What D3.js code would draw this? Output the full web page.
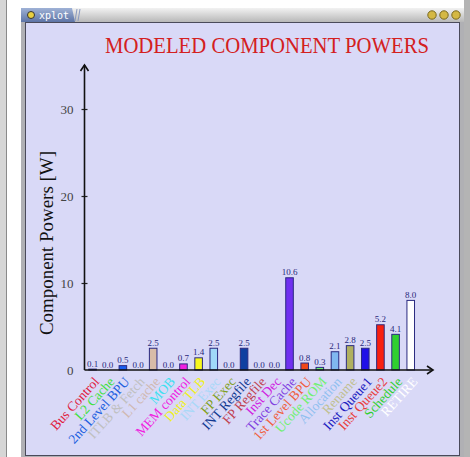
<!DOCTYPE html>
<html><head><meta charset="utf-8">
<script src="https://cdn.jsdelivr.net/npm/d3@7"></script>
<style>body{margin:0;background:#fff;overflow:hidden}</style>
</head><body>
<svg id="c" width="470" height="457"></svg>
<script>
const categories = ["Bus Control","L2 Cache","2nd Level BPU","ITLB & Fetch","L1 cache","MOB","MEM control","Data TLB","INT Exec","FP Exec","INT Regfile","FP Regfile","Inst Dec","Trace Cache","1st Level BPU","Ucode ROM","Allocation","Rename","Inst Queue1","Inst Queue2","Schedule","RETIRE"];
const values = [0.1,0.0,0.5,0.0,2.5,0.0,0.7,1.4,2.5,0.0,2.5,0.0,0.0,10.6,0.8,0.3,2.1,2.8,2.5,5.2,4.1,8.0];
const barColors = ["#e02030","#40e040","#1a5ef0","#c8c8c8","#d8bca8","#40e0f0","#f020e0","#f8f820","#a0d8f8","#80a020","#1040a0","#c04050","#d020e0","#7030f0","#f04818","#70f070","#80b8f0","#b0b060","#2010e8","#f82010","#30d030","#ffffff"];
const labelColors = ["#e02040","#40e040","#2060e0","#c0c0c0","#d0b8b0","#40e0f0","#f020e0","#f0f020","#a8d8f8","#80a020","#103890","#c04050","#d020e0","#8040e0","#f06040","#70f070","#90c0f0","#c0c090","#2020c0","#e84040","#30d030","#ffffff"];
const yTicks = [0,10,20,30];
const titleText = "MODELED COMPONENT POWERS";
const yTitleText = "Component Powers [W]";

const svg = d3.select("#c");
const serif = "'Liberation Serif','DejaVu Serif',serif";

// ---- window chrome ----
svg.append("rect").attr("x",0).attr("y",0).attr("width",7).attr("height",457).attr("fill","#d6d6d6");
svg.append("line").attr("x1",6.5).attr("x2",6.5).attr("y1",0).attr("y2",457).attr("stroke","#8a8a8a");
svg.append("rect").attr("x",464).attr("y",0).attr("width",6).attr("height",457).attr("fill","#b4b4b4");
svg.append("rect").attr("x",21).attr("y",8).attr("width",443).attr("height",449).attr("fill","#b0b0b4");
const defs = svg.append("defs");
const g1 = defs.append("linearGradient").attr("id","tb").attr("x1",0).attr("x2",0).attr("y1",0).attr("y2",1);
g1.append("stop").attr("offset",0).attr("stop-color","#f2f2f2");
g1.append("stop").attr("offset",1).attr("stop-color","#b8b8b8");
const g2 = defs.append("linearGradient").attr("id","tab").attr("x1",0).attr("x2",0).attr("y1",0).attr("y2",1);
g2.append("stop").attr("offset",0).attr("stop-color","#9fb2d6");
g2.append("stop").attr("offset",1).attr("stop-color","#5d74a6");
svg.append("rect").attr("x",21).attr("y",8).attr("width",443).attr("height",14).attr("fill","url(#tb)");
svg.append("path").attr("d","M21,8 H72 L75,22 H21 Z").attr("fill","url(#tab)");
svg.append("path").attr("d","M77,9 l-2,12 M80,9 l-2,12").attr("stroke","#8a9ac0").attr("fill","none");
svg.append("circle").attr("cx",31).attr("cy",15).attr("r",3.5).attr("fill","#e8d040").attr("stroke","#333");
svg.append("text").attr("x",39).attr("y",19).attr("fill","#fff").attr("font-family","'DejaVu Sans Mono',monospace").attr("font-size",10).text("xplot");
[432,444,456].forEach(cx=>svg.append("circle").attr("cx",cx).attr("cy",15).attr("r",4.2).attr("fill","#d4b844").attr("stroke","#7a6a20"));
svg.append("rect").attr("x",25.5).attr("y",22.5).attr("width",434).attr("height",433).attr("fill","#d9d9f7").attr("stroke","#4a4a5a");

// ---- scales ----
const x = d3.scaleBand().domain(categories).range([85, 85+22*15.15]).paddingInner(0.5).paddingOuter(0.25);
const y = d3.scaleLinear().domain([0,30]).range([370,109]);

// ---- title ----
svg.append("text").attr("x",267).attr("y",53).attr("fill","#d42020").attr("text-anchor","middle")
  .attr("font-family",serif).attr("font-size",23)
  .attr("textLength",324).attr("lengthAdjust","spacingAndGlyphs").text(titleText);

// ---- y title ----
svg.append("text").attr("transform","translate(53,243) rotate(-90)").attr("text-anchor","middle")
  .attr("fill","#111").attr("font-family",serif).attr("font-size",18)
  .attr("textLength",184).attr("lengthAdjust","spacingAndGlyphs").text(yTitleText);

// ---- y axis ----
const ya = svg.append("g").attr("transform","translate(84.5,0)")
  .call(d3.axisLeft(y).tickValues(yTicks).tickSize(3).tickPadding(8).tickFormat(d3.format("d")));
ya.select(".domain").remove();
ya.selectAll(".tick line").attr("x1",3).attr("x2",-3).attr("stroke","#222").attr("stroke-width",1.2);
ya.selectAll(".tick text").attr("font-family",serif).attr("font-size",13).attr("fill","#444");
ya.selectAll(".tick").filter(d=>d===0).select("line").remove();

// ---- bars ----
svg.append("g").selectAll("rect").data(values).join("rect")
  .attr("x",(d,i)=>x(categories[i])).attr("width",x.bandwidth())
  .attr("y",d=>y(d)).attr("height",d=>y(0)-y(d))
  .attr("fill",(d,i)=>barColors[i]).attr("stroke","#2a2a80").attr("stroke-width",1);

svg.append("g").selectAll("text").data(values).join("text")
  .attr("x",(d,i)=>x(categories[i])+x.bandwidth()/2).attr("y",d=>y(d)-2.5)
  .attr("text-anchor","middle").attr("font-family",serif).attr("font-size",9)
  .attr("fill","#28287a").text(d=>d.toFixed(1));

// ---- axes lines ----
svg.append("path").attr("d",`M84.5,${y(0)} V65`).attr("stroke","#111").attr("stroke-width",1.6).attr("fill","none");
svg.append("path").attr("d",`M80.5,71 L84.5,65 L88.5,71`).attr("stroke","#111").attr("stroke-width",1.6).attr("fill","none");
svg.append("path").attr("d",`M84.5,${y(0)} H433`).attr("stroke","#111").attr("stroke-width",1.6).attr("fill","none");
svg.append("path").attr("d",`M427,${y(0)-4} L433,${y(0)} L427,${y(0)+4}`).attr("stroke","#111").attr("stroke-width",1.6).attr("fill","none");

// ---- category labels ----
svg.append("g").selectAll("text").data(categories).join("text")
  .attr("transform",d=>`translate(${x(d)+x.bandwidth()/2+4},379) rotate(-48)`)
  .attr("text-anchor","end").attr("dy","0.35em")
  .attr("font-family",serif).attr("font-size",13.5)
  .attr("fill",(d,i)=>labelColors[i]).text(d=>d);
</script>
</body></html>
